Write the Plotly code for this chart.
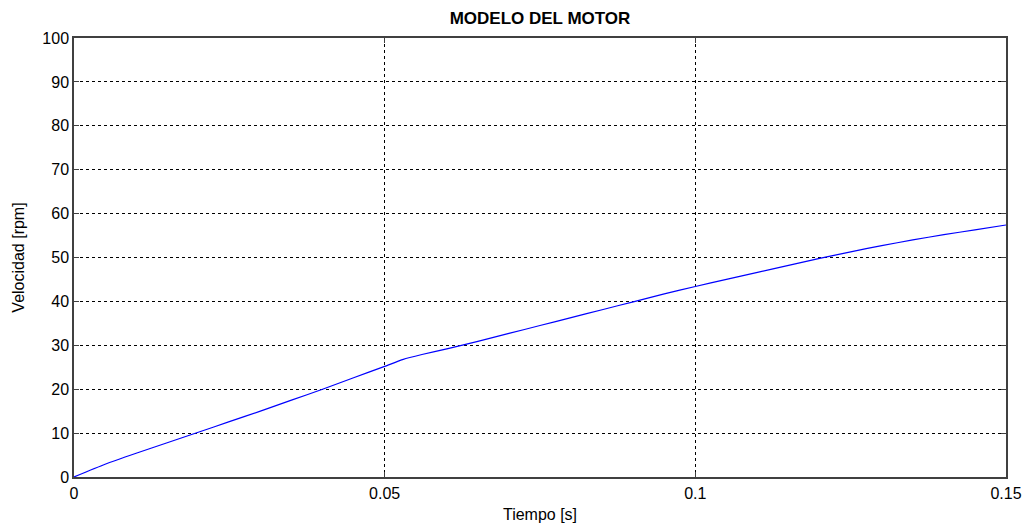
import plotly.graph_objects as go

tiempo = [0, 0.005, 0.01, 0.015, 0.02, 0.025, 0.03, 0.035, 0.04, 0.045, 0.05, 0.053,
          0.056, 0.06, 0.065, 0.07, 0.075, 0.08, 0.085, 0.09, 0.095, 0.1, 0.105, 0.11,
          0.115, 0.12, 0.125, 0.13, 0.135, 0.14, 0.145, 0.15]
velocidad = [0, 2.9, 5.4, 7.8, 10.2, 12.6, 15.0, 17.5, 20.0, 22.6, 25.2, 26.8,
             27.9, 29.2, 30.9, 32.7, 34.5, 36.3, 38.1, 39.9, 41.7, 43.4, 45.0, 46.6,
             48.2, 49.8, 51.3, 52.7, 54.0, 55.2, 56.3, 57.4]
x_ticks = [0, 0.05, 0.1, 0.15]
x_tick_text = ["0", "0.05", "0.1", "0.15"]
y_ticks = list(range(0, 101, 10))

fig = go.Figure()
fig.add_trace(go.Scatter(x=tiempo, y=velocidad, mode="lines", line_shape="spline",
                         line=dict(color="#0000ff", width=1.2, smoothing=0.6), showlegend=False))

font = dict(family="Liberation Sans, Arial, sans-serif", size=16, color="#000000")
axis_common = dict(showline=True, linecolor="#404040", linewidth=1.5, mirror="ticks",
                   ticks="inside", ticklen=5, tickcolor="#404040", tickwidth=1,
                   showgrid=True, gridcolor="#000000", gridwidth=1, griddash="3px,3px",
                   zeroline=False, tickfont=font, automargin=False)

fig.update_layout(
    width=1027, height=527,
    margin=dict(l=74, r=21, t=38, b=50),
    paper_bgcolor="white", plot_bgcolor="white",
    title=dict(text="<b>MODELO DEL MOTOR</b>", x=0.5, xref="paper", y=1 - 18/527, yanchor="middle",
               font=dict(family="Liberation Sans, Arial, sans-serif", size=17, color="#000000")),
    font=font,
)
fig.update_xaxes(range=[0, 0.15], tickvals=x_ticks, ticktext=x_tick_text, ticklabelstandoff=1,
                 title=dict(text="Tiempo [s]", font=font, standoff=8), **axis_common)
fig.update_yaxes(range=[0, 100], tickvals=y_ticks, ticklabelstandoff=0,
                 title=dict(text="Velocidad [rpm]", font=font, standoff=14), **axis_common)

fig.write_html("out.html", config={"displayModeBar": False},
               post_script="document.body.style.margin='0';document.body.style.overflow='hidden';")
